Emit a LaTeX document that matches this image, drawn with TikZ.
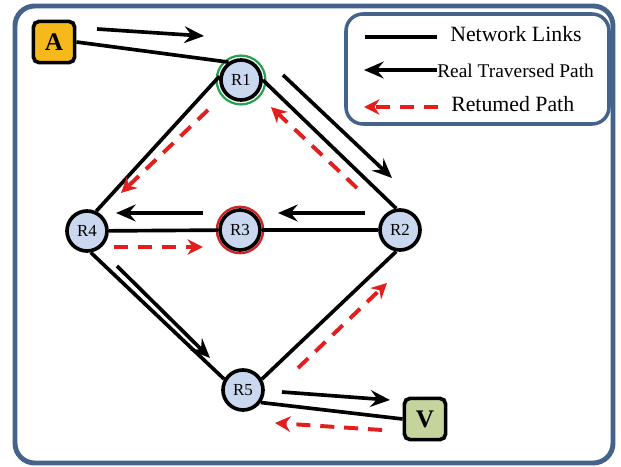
\documentclass[tikz,border=0pt]{standalone}
\usepackage{fontspec}
\setmainfont{Liberation Serif}
\usetikzlibrary{arrows.meta,positioning,calc}
\definecolor{frameblue}{HTML}{44628A}
\definecolor{routerfill}{HTML}{C9D8EF}
\definecolor{aorange}{HTML}{F6B81A}
\definecolor{vgreen}{HTML}{C5D49C}
\definecolor{ringgreen}{HTML}{28A050}
\definecolor{ringred}{HTML}{D42020}
\definecolor{pathred}{HTML}{E21E1E}

\begin{document}
\begin{tikzpicture}[x=0.025cm, y=-0.025cm,
    router/.style={circle, draw=black, line width=2.6pt, fill=routerfill,
        minimum size=1.0cm, inner sep=0pt, font=\fontsize{12}{14}\selectfont},
    endbox/.style={draw=black, line width=2.6pt, rounded corners=4pt,
        minimum size=1.03cm, inner sep=0pt, font=\fontsize{18}{20}\selectfont\bfseries},
    ring/.style={circle, line width=1.6pt, minimum size=1.22cm, inner sep=0pt},
    link/.style={line width=2.6pt},
    real/.style={line width=2.6pt, -{Stealth[length=14pt, width=12pt, inset=5pt]}},
    back/.style={pathred, line width=2.8pt, dash pattern=on 10pt off 7pt,
        -{Stealth[length=11pt, width=11pt]}}]

    % Canvas and outer frame
    \useasboundingbox (0,0) rectangle (621,467);
    \draw[frameblue, line width=3.5pt, rounded corners=14pt] (15,6) rectangle (613,463);

    % Routers and end hosts
    \node[router] (R1) at (241,80) {R1};
    \node[router] (R2) at (400,230) {R2};
    \node[router] (R3) at (240,230) {R3};
    \node[router] (R4) at (87,231) {R4};
    \node[router] (R5) at (243,390) {R5};
    \node[endbox, fill=aorange] (A) at (54,42) {A};
    \node[endbox, fill=vgreen] (V) at (425,419) {V};

    % Highlight rings
    \node[ring, draw=ringgreen] (g1) at (R1) {};
    \node[ring, draw=ringred, minimum size=1.16cm] (r3) at (R3) {};

    % Network links
    \draw[link] (A.east) -- (R1.125);
    \draw[link] (R1.east) -- (R2.100);
    \draw[link] (R1.170) -- (R4.65);
    \draw[link] (R4) -- (R3);
    \draw[link] (R3) -- (R2);
    \draw[link] (R4.-80) -- (R5.150);
    \draw[link] (R5.30) -- (R2.-100);
    \draw[link] (R5.-35) -- (V.west);

    % Real traversed path
    \coordinate (a1) at (97,29);   \coordinate (a2) at (204,36);
    \coordinate (b1) at (283,75);  \coordinate (b2) at (392,178);
    \coordinate (c1) at (365,213); \coordinate (c2) at (278,213);
    \coordinate (d1) at (203,213); \coordinate (d2) at (116,213);
    \coordinate (e1) at (117,266); \coordinate (e2) at (210,358);
    \coordinate (f1) at (282,392); \coordinate (f2) at (390,400);
    \foreach \s/\t in {a1/a2, b1/b2, c1/c2, d1/d2, e1/e2, f1/f2}
        \draw[real] (\s) -- (\t);

    % Returned path
    \coordinate (p1) at (357,188); \coordinate (p2) at (271,107);
    \coordinate (q1) at (208,110); \coordinate (q2) at (121,193);
    \coordinate (s1) at (114,247); \coordinate (s2) at (203,247);
    \coordinate (t1) at (298,368); \coordinate (t2) at (387,283);
    \coordinate (u1) at (382,430); \coordinate (u2) at (275,423);
    \foreach \s/\t in {p1/p2, q1/q2, s1/s2, t1/t2, u1/u2}
        \draw[back] (\s) -- (\t);

    % Legend
    \draw[frameblue, line width=2.5pt, rounded corners=12pt] (346,14) rectangle (609,124);
    \coordinate (l1) at (365,37);  \coordinate (l2) at (437,37);
    \coordinate (m1) at (437,70);  \coordinate (m2) at (364,70);
    \coordinate (n1) at (438,107); \coordinate (n2) at (364,107);
    \draw[link] (l1) -- (l2);
    \draw[real] (m1) -- (m2);
    \draw[back] (n1) -- (n2);
    \node[right, inner sep=0pt, font=\fontsize{15.5}{18}\selectfont] (lk) at (450,34) {Network Links};
    \node[right, inner sep=0pt, font=\fontsize{13.8}{16}\selectfont] (lt) at (437,71) {Real Traversed Path};
    \node[right, inner sep=0pt, font=\fontsize{15.5}{18}\selectfont] (lr) at (451,104) {Retumed Path};
\end{tikzpicture}
\end{document}
